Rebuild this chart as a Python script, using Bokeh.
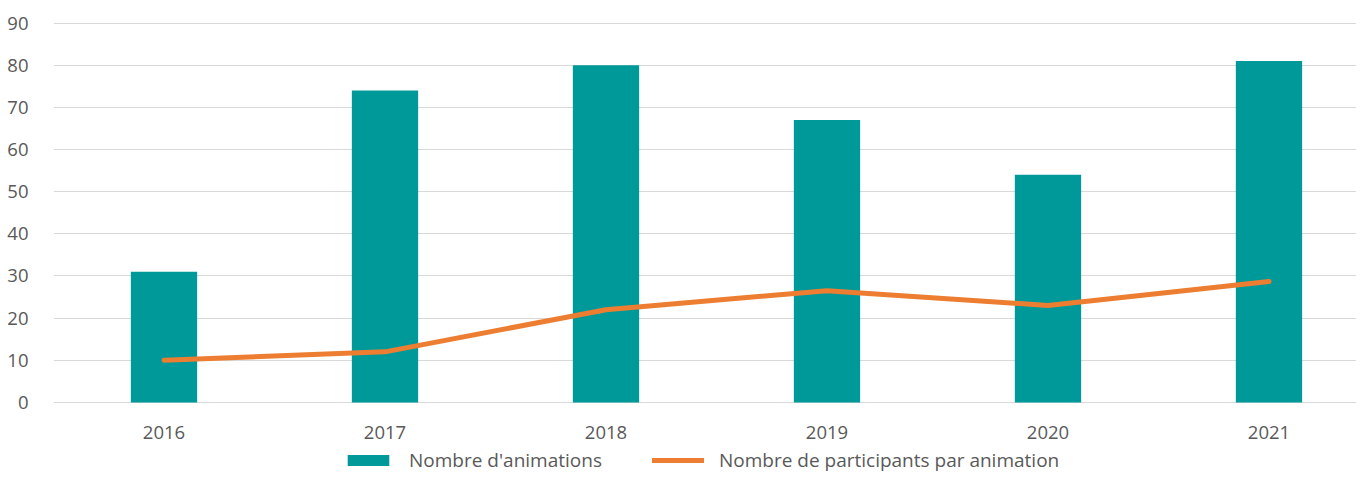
from bokeh.plotting import figure
from bokeh.models import Range1d, FixedTicker, Legend, LegendItem
from bokeh.core.properties import value
from bokeh.embed import file_html
from bokeh.resources import INLINE

years = ["2016", "2017", "2018", "2019", "2020", "2021"]
animations = [31, 74, 80, 67, 54, 81]
participants = [10, 12, 22, 26.5, 23, 28.7]
y_ticks = [0, 10, 20, 30, 40, 50, 60, 70, 80, 90]

xs = list(range(len(years)))

TEAL = "#009999"
ORANGE = "#ED7D31"
GRID = "#D9D9D9"
LABEL = "#595959"
FONT = "Open Sans"

p = figure(width=1356, height=473,
           x_range=Range1d(-0.5, 5.396), y_range=Range1d(-16.86, 90.12),
           output_backend="svg", toolbar_location=None,
           min_border_left=53, min_border_right=0, min_border_top=22, min_border_bottom=0)
p.outline_line_color = None
p.background_fill_color = "white"
p.border_fill_color = "white"

bars = p.vbar(x=xs, top=animations, width=0.30, fill_color=TEAL, line_color=None)
line = p.line(xs, participants, line_width=5, line_color=ORANGE, line_cap="round", line_join="round")

# category labels under the baseline (x axis itself hidden)
p.text(x=xs, y=[0] * len(xs), text=years, y_offset=30,
       text_align="center", text_baseline="middle",
       text_font=value(FONT), text_font_size="18.5px", text_color=LABEL)

p.xgrid.grid_line_color = None
p.ygrid.grid_line_color = GRID
p.ygrid.grid_line_width = 1
p.ygrid.ticker = FixedTicker(ticks=y_ticks)

p.yaxis.ticker = FixedTicker(ticks=y_ticks)
p.yaxis.axis_line_color = None
p.yaxis.major_tick_line_color = None
p.yaxis.minor_tick_line_color = None
p.yaxis.major_label_standoff = 19
p.yaxis.major_label_text_font = FONT
p.yaxis.major_label_text_font_size = "18.5px"
p.yaxis.major_label_text_color = LABEL

p.xaxis.visible = False

legend = Legend(items=[LegendItem(label="Nombre d'animations", renderers=[bars]),
                       LegendItem(label="Nombre de participants par animation", renderers=[line])],
                location=(289, 0), orientation="horizontal",
                glyph_width=52, glyph_height=14, label_standoff=15, spacing=50,
                padding=0, margin=0, border_line_color=None, background_fill_alpha=0,
                label_text_font=FONT, label_text_font_size="19px", label_text_color=LABEL,
                label_height=14)
p.add_layout(legend, "center")

open("out.html", "w").write(file_html(p, INLINE))
